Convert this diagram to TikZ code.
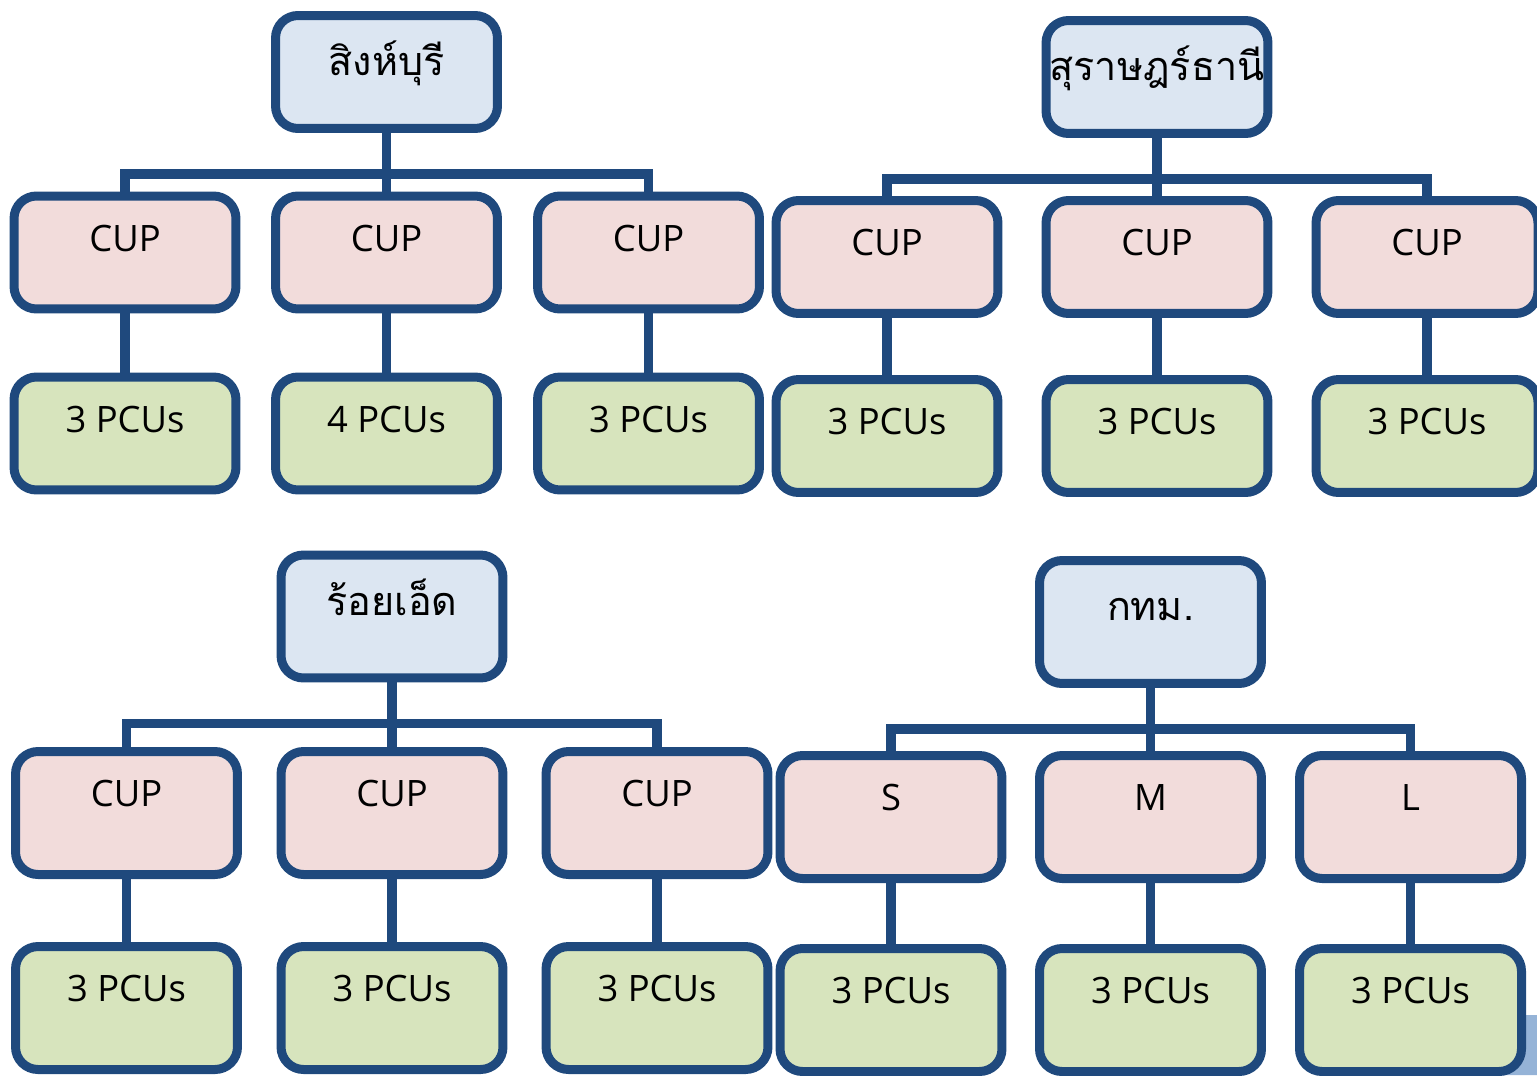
\documentclass[tikz,border=0pt]{standalone}
\usepackage{fontspec}
\setmainfont{Open Sans}
\newfontfamily\thaifont[Script=Thai]{Loma}
\usepackage{xcolor}
\usepackage{tikz}

\definecolor{edgeblue}{RGB}{31,73,125}
\definecolor{rootfill}{RGB}{220,230,242}
\definecolor{cupfill}{RGB}{242,220,219}
\definecolor{pcufill}{RGB}{215,228,189}
\definecolor{cornerblue}{RGB}{149,179,215}

\tikzset{
  cell/.style={draw=edgeblue, line width=0.18cm, rounded corners=0.45cm,
    minimum width=4.44cm, inner sep=0pt, align=center, text height=1.1cm,
    font=\fontsize{20.7pt}{24pt}\selectfont},
  tall/.style={text depth=1.16cm},
  taller/.style={text depth=1.36cm},
  root/.style={cell, fill=rootfill, text height=1.2cm,
    font=\thaifont\fontsize{22.5pt}{26pt}\selectfont},
  cup/.style={cell, fill=cupfill},
  pcu/.style={cell, fill=pcufill},
  link/.style={draw=edgeblue, line width=0.19cm}
}

\begin{document}
\begin{tikzpicture}[x=0.02cm, y=-0.02cm]
    \useasboundingbox (0,0) rectangle (1537,1075);
    \fill[cornerblue] (1526,1015) -- (1537,1015) -- (1537,1075) -- (1500,1075) -- cycle;

    % Sing Buri
    \node[root, tall, text depth=1.06cm] (sing) at (386.5,72) {สิงห์บุรี};
    \node[cup, tall] (sing1) at (125,252.5) {CUP};
    \node[cup, tall] (sing2) at (386.5,252.5) {CUP};
    \node[cup, tall] (sing3) at (648.5,252.5) {CUP};
    \node[pcu, tall] (singp1) at (125,433.5) {3 PCUs};
    \node[pcu, tall] (singp2) at (386.5,433.5) {4 PCUs};
    \node[pcu, tall] (singp3) at (648.5,433.5) {3 PCUs};

    % Surat Thani
    \node[root, tall, text depth=1.06cm] (surat) at (1157,77) {สุราษฎร์ธานี};
    \node[cup, tall] (surat1) at (887,257) {CUP};
    \node[cup, tall] (surat2) at (1157,257) {CUP};
    \node[cup, tall] (surat3) at (1427,257) {CUP};
    \node[pcu, tall] (suratp1) at (887,436) {3 PCUs};
    \node[pcu, tall] (suratp2) at (1157,436) {3 PCUs};
    \node[pcu, tall] (suratp3) at (1427,436) {3 PCUs};

    % Roi Et
    \node[root, taller, text depth=1.26cm] (roiet) at (392,616.5) {ร้อยเอ็ด};
    \node[cup, taller] (roiet1) at (126.5,813) {CUP};
    \node[cup, taller] (roiet2) at (392,813) {CUP};
    \node[cup, taller] (roiet3) at (657,813) {CUP};
    \node[pcu, taller] (roietp1) at (126.5,1008) {3 PCUs};
    \node[pcu, taller] (roietp2) at (392,1008) {3 PCUs};
    \node[pcu, taller] (roietp3) at (657,1008) {3 PCUs};

    % Bangkok
    \node[root, taller, text depth=1.26cm] (bkk) at (1150.5,622) {กทม.};
    \node[cup, taller] (bkk1) at (891,817) {S};
    \node[cup, taller] (bkk2) at (1150.5,817) {M};
    \node[cup, taller] (bkk3) at (1410.5,817) {L};
    \node[pcu, taller] (bkkp1) at (891,1010) {3 PCUs};
    \node[pcu, taller] (bkkp2) at (1150.5,1010) {3 PCUs};
    \node[pcu, taller] (bkkp3) at (1410.5,1010) {3 PCUs};

    \foreach \g in {sing,surat,roiet,bkk}{
      \draw[link] (\g.south) -- ++(0,41) -| (\g1.north);
      \draw[link] (\g.south) -- ++(0,41) -| (\g3.north);
      \draw[link] (\g.south) -- (\g2.north);
      \foreach \i in {1,2,3}
        \draw[link] (\g\i.south) -- (\g p\i.north);
    }
\end{tikzpicture}
\end{document}
